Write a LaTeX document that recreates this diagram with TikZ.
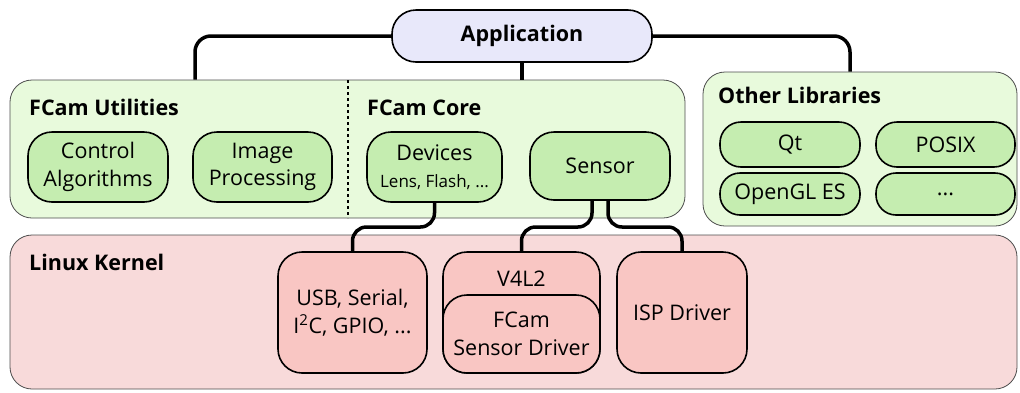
\documentclass[tikz,border=0pt]{standalone}
\usepackage{fontspec}
\setmainfont{Open Sans}
\definecolor{appfill}{HTML}{E8E8FA}
\definecolor{libfill}{HTML}{E8FADC}
\definecolor{modfill}{HTML}{C5EDB0}
\definecolor{krnfill}{HTML}{F8DADA}
\definecolor{drvfill}{HTML}{F9C6C3}
\newcommand{\partfont}{\fontsize{21.5}{27.5}\selectfont}
\newcommand{\headfont}{\fontsize{21.5}{26}\selectfont\bfseries}

\begin{document}
\begin{tikzpicture}[x=1pt, y=-1pt,
		container/.style={draw=black!70, line width=0.8pt, rounded corners=22pt, inner sep=0pt},
		part/.style={draw, line width=1.6pt, rounded corners=24pt, align=center, inner sep=0pt, font=\partfont},
		heading/.style={anchor=base west, inner sep=0pt, font=\headfont},
		wire/.style={line width=3.5pt, rounded corners=14pt}]
		\useasboundingbox (0, 0) rectangle (1020, 392);
		% containers
		\node[container, fill=libfill, minimum width=675, minimum height=138](fcam) at (347.5, 149){};
		\node[container, fill=libfill, minimum width=314, minimum height=154](libs) at (860, 149){};
		\node[container, fill=krnfill, minimum width=1007, minimum height=154](kernel) at (513.5, 312){};
		\draw[line width=1.6pt, dashed](348, 80)--(348, 218);
		\node[heading](utilhead) at (29, 115){FCam Utilities};
		\node[heading](corehead) at (367, 115){FCam Core};
		\node[heading](libshead) at (718, 103){Other Libraries};
		\node[heading](kernelhead) at (29, 270){Linux Kernel};
		% application
		\node[part, fill=appfill, rounded corners=24pt, minimum width=260, minimum height=52, font=\headfont](app) at (522, 36){Application};
		% fcam and library modules
		\node[part, fill=modfill, minimum width=140, minimum height=70](ctrl) at (98, 167){Control\\Algorithms};
		\node[part, fill=modfill, minimum width=139, minimum height=70](imgproc) at (262.5, 167){Image\\Processing};
		\node[part, fill=modfill, minimum width=135, minimum height=70](dev) at (434.5, 167){Devices\\{\fontsize{17}{19}\selectfont Lens, Flash, ...}};
		\node[part, fill=modfill, minimum width=140, minimum height=68](sensor) at (600, 166){Sensor};
		\node[part, fill=modfill, rounded corners=21pt, minimum width=140, minimum height=45](qt) at (790, 144.5){Qt};
		\node[part, fill=modfill, rounded corners=21pt, minimum width=139, minimum height=45](posix) at (945.5, 144.5){POSIX};
		\node[part, fill=modfill, rounded corners=20pt, minimum width=140, minimum height=42](gles) at (790, 194){OpenGL ES};
		\node[part, fill=modfill, rounded corners=20pt, minimum width=139, minimum height=42](more) at (945.5, 194){...};
		% kernel drivers
		\node[part, fill=drvfill, minimum width=149, minimum height=121](usb) at (352.5, 312.5){USB, Serial,\\I\textsuperscript{2}C, GPIO, ...};
		\node[part, fill=drvfill, minimum width=157, minimum height=121, label={[anchor=center, yshift=-28pt, font=\partfont]north:V4L2}](v4l) at (521.5, 312.5){};
		\node[part, fill=drvfill, minimum width=157, minimum height=78](fsd) at (521.5, 334){FCam\\Sensor Driver};
		\node[part, fill=drvfill, minimum width=130, minimum height=121](isp) at (682, 312.5){ISP Driver};
		% connectors
		\coordinate (gap) at (0, 227);
		\draw[wire, rounded corners=16pt](app.west)-|([xshift=-152.5pt]fcam.north);
		\draw[wire](app.south)--(app.south|-fcam.north);
		\draw[wire, rounded corners=16pt](app.east)-|([xshift=-10pt]libs.north);
		\draw[wire](dev.south)|-(gap-|usb.north)--(usb.north);
		\draw[wire]([xshift=-8pt]sensor.south)|-(gap-|v4l.north)--(v4l.north);
		\draw[wire]([xshift=8pt]sensor.south)|-(gap-|isp.north)--(isp.north);
	\end{tikzpicture}
\end{document}
